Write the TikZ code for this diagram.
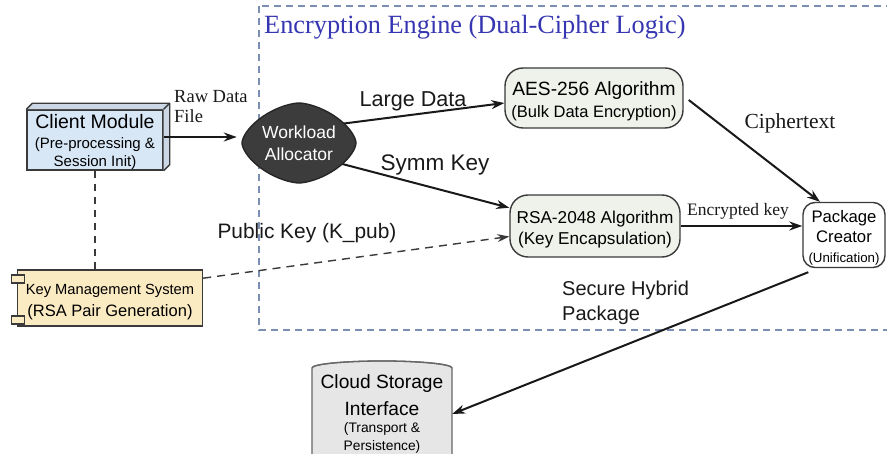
\documentclass[tikz,border=0pt]{standalone}
\usepackage{fontspec}
\setmainfont{Liberation Serif}
\setsansfont{Liberation Sans}
\usetikzlibrary{shapes.geometric,arrows.meta,calc}
\definecolor{clientfill}{HTML}{D8E7F6}
\definecolor{kmsfill}{HTML}{FBEBC3}
\definecolor{wlfill}{HTML}{3C3C3C}
\definecolor{algfill}{HTML}{EEF2EA}
\definecolor{cloudfill}{HTML}{E6E6E6}
\definecolor{framecol}{HTML}{7A8FB2}
\definecolor{titlecol}{HTML}{3636B2}
\definecolor{edgecol}{HTML}{3A3A3A}
\tikzset{
  boxbase/.style={draw=edgecol, line width=1.4pt, inner sep=0pt, align=center},
  clientbox/.style={boxbase, fill=clientfill, minimum width=136pt, minimum height=60pt},
  kmsbox/.style={boxbase, fill=kmsfill, minimum width=185pt, minimum height=56pt},
  wlanchor/.style={diamond, aspect=1.45, draw=none, text=white, inner sep=0pt,
     minimum width=112pt, minimum height=77pt, align=center},
  wlblob/.style={draw=black!85, line width=1.4pt, fill=wlfill, line join=round},
  algbox/.style={boxbase, fill=algfill, rounded corners=18pt},
  pkgbox/.style={boxbase, fill=white, rounded corners=12pt, minimum width=82pt, minimum height=65pt},
  cloudtext/.style={inner sep=0pt, align=center, minimum width=140pt, minimum height=92pt},
  arr/.style={line width=2pt, black!90, -{Stealth[length=13pt,width=9pt]}},
  darr/.style={line width=1.4pt, edgecol, dash pattern=on 8pt off 6pt, -{Stealth[length=12pt,width=8pt]}},
  dline/.style={line width=1.4pt, edgecol, dash pattern=on 7pt off 6pt},
  lblsans/.style={inner sep=0pt, text=black!90},
  lblserif/.style={inner sep=0pt, text=black!90},
  framestyle/.style={draw=framecol, line width=1.3pt, dash pattern=on 7pt off 5pt}
}
\newcommand{\sz}[2]{\fontsize{#1}{#2}\selectfont}
\begin{document}
\begin{tikzpicture}[x=1pt,y=-1pt]
\useasboundingbox (0,0) rectangle (887,454);
\fill[white] (0,0) rectangle (887,454);

% frame of the encryption engine
\draw[framestyle] (259,6) rectangle (900,330);
\node[anchor=west, inner sep=0pt, font=\rmfamily\sz{26.3}{30}, text=titlecol] (title) at (264,27) {Encryption Engine (Dual-Cipher Logic)};

% client module (3D box)
\node[clientbox, font=\sffamily\sz{15}{18.5}] (client) at (95,140) {\sz{19.5}{18.5}\rule{0pt}{19pt}Client Module\\[1pt]\sz{15}{18.5}(Pre-processing \&\\\sz{15}{18.5}Session Init)};
\fill[clientfill!85!gray] (client.north west) -- ++(6,-6) -- ($(client.north east)+(6,-6)$) -- ($(client.south east)+(6,-6)$) -- (client.south east) -- (client.north east) -- cycle;
\draw[edgecol, line width=1.4pt, line join=round] (client.north west) -- ++(6,-6) -- ($(client.north east)+(6,-6)$) -- ($(client.south east)+(6,-6)$) -- (client.south east);
\draw[edgecol, line width=1.4pt] (client.north east) -- ++(6,-6);

% key management system
\node[kmsbox, font=\sffamily\sz{16.5}{22}] (kms) at (110,298) {\sz{14.7}{22}\rule{0pt}{19pt}Key Management System\\\sz{16.5}{22}(RSA Pair Generation)};
\draw[edgecol, line width=1.2pt, fill=kmsfill] ($(kms.west)+(-5,-23)$) rectangle ++(13,8);
\draw[edgecol, line width=1.2pt, fill=kmsfill] ($(kms.west)+(-5,18)$) rectangle ++(13,8);

% algorithms
\node[algbox, font=\sffamily\sz{16.5}{22}, minimum width=178pt, minimum height=60pt] (aes) at (594,98) {\sz{19.2}{22}\rule{0pt}{20pt}AES-256 Algorithm\\\sz{16.5}{22}(Bulk Data Encryption)};
\node[algbox, font=\sffamily\sz{17.2}{20.5}, minimum width=170pt, minimum height=62pt] (rsa) at (595,226) {\rule{0pt}{19.5pt}RSA-2048 Algorithm\\(Key Encapsulation)};

% package creator
\node[pkgbox, font=\sffamily\sz{16.7}{20}] (pkg) at (844,235) {\sz{16.7}{20}\rule{0pt}{18.5pt}Package\\\sz{16.7}{20}Creator\\\sz{13.3}{18}(Unification)};

% workload allocator: anchor node, connectors drawn beneath the blob
\node[wlanchor] (wlpos) at (299,143) {};
\draw[arr] (wlpos.30) -- ($(aes.west)+(0,5)$);
\draw[arr] (wlpos.-30) -- (rsa.168);
\draw[wlblob] plot[domain=1:361, samples=73] ({299+57*cos(\x)/abs(cos(\x))*pow(abs(cos(\x)),1.25)}, {143+40*sin(\x)/abs(sin(\x))*pow(abs(sin(\x)),1.25)}) -- cycle;
\node[wlanchor, font=\sffamily\sz{17.5}{22}] (wl) at (299,143) {Workload\\Allocator};

% cloud storage cylinder
\filldraw[fill=cloudfill, draw=black!60, line width=1.3pt] (312,368) -- (312,470) -- (452,470) -- (452,368) arc[start angle=0, end angle=-180, x radius=70, y radius=7] -- cycle;
\draw[black!60, line width=1.3pt] (312,368) arc[start angle=180, end angle=0, x radius=70, y radius=-7];
\node[cloudtext, font=\sffamily\sz{14}{17.5}] (cloud) at (382,414) {\sz{19.2}{24}Cloud Storage\\[8pt]\sz{19.2}{25}Interface\\\sz{13.8}{18}(Transport \&\\\sz{13.8}{18}Persistence)};

% connectors
\draw[dline] (client.south) -- (client.south |- kms.north);
\draw[arr] ($(client.east)+(0,-3)$) -- ($(client.east -| wl.west)+(0,-3)$);
\draw[darr] (kms.12) -- (rsa.187);
\draw[arr] (rsa.east) -- (rsa.east -| pkg.west);
\draw[arr] ($(aes.east)+(5,2)$) -- ($(pkg.north)+(-24,0)$);
\draw[arr] ($(pkg.south west)+(6,4)$) -- (cloud.east);

% labels
\node[lblserif, anchor=north west, align=left, font=\rmfamily\sz{18.5}{20}] (rawlbl) at (174,90) {Raw Data\\File};
\node[lblsans, font=\sffamily\sz{21.6}{24}] (largelbl) at (413,101) {Large Data};
\node[lblsans, font=\sffamily\sz{22.5}{24}] (symmlbl) at (435,165) {Symm Key};
\node[lblsans, font=\sffamily\sz{20.9}{24}] (publbl) at (307,233) {Public Key (K\_pub)};
\node[lblserif, font=\rmfamily\sz{21.5}{24}] (ciphlbl) at (790,123) {Ciphertext};
\node[lblserif, font=\rmfamily\sz{17.5}{20}] (enclbl) at (738,211) {Encrypted key};
\node[lblsans, anchor=north west, align=left, font=\sffamily\sz{20}{25}] (securelbl) at (562,281) {Secure Hybrid\\Package};
\end{tikzpicture}
\end{document}
